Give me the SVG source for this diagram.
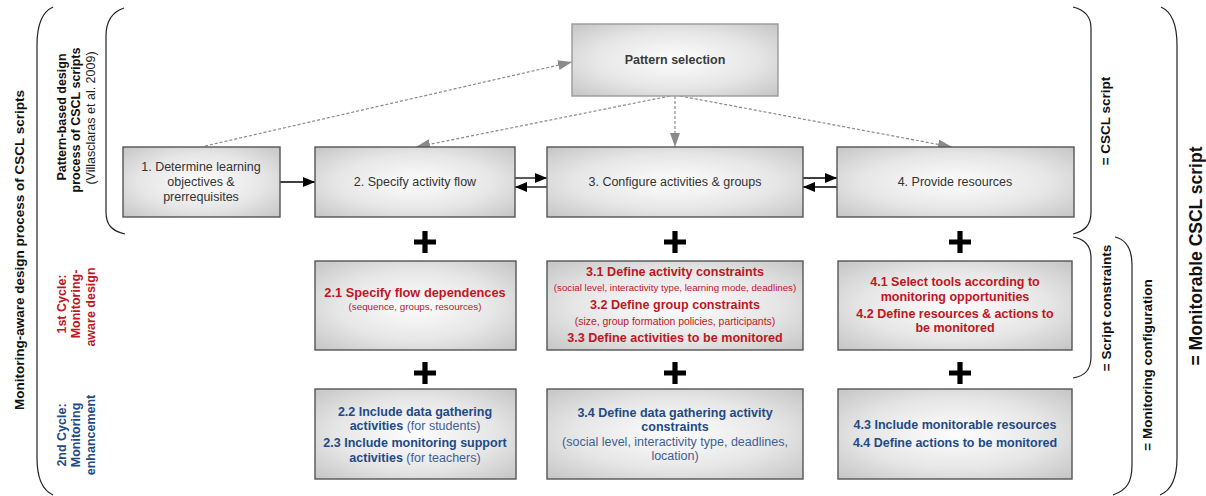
<svg xmlns="http://www.w3.org/2000/svg" width="1206" height="496" viewBox="0 0 1206 496">
  <style>
    .box { fill: url(#boxFill); stroke: #555; stroke-width: 1.4; }
    .box-light { fill: url(#boxFill); stroke: #9a9a9a; stroke-width: 1.4; }
    .t { font-family: "Liberation Sans", Arial, sans-serif; text-anchor: middle; }
    .step { font-size: 12.5px; fill: #333; }
    .red { fill: #c0161f; }
    .blue { fill: #1e4a86; }
    .b { font-weight: bold; }
    .lbl { font-family: "Liberation Sans", Arial, sans-serif; font-weight: bold; text-anchor: middle; fill: #111; }
    .brace { fill: none; stroke: #222; stroke-width: 1.2; }
    .solid { fill: none; stroke: #000; stroke-width: 1.3; }
    .dash { fill: none; stroke: #8a8a8a; stroke-width: 1.2; stroke-dasharray: 3 2; }
    .plus { fill: #000; }
  </style>
  <defs>
    <radialGradient id="boxFill" cx="0.5" cy="0.5" r="0.72">
      <stop offset="0" stop-color="#fdfdfd"/>
      <stop offset="0.55" stop-color="#e6e6e6"/>
      <stop offset="1" stop-color="#c3c3c3"/>
    </radialGradient>
    <marker id="arrowBlack" viewBox="0 0 12 10" refX="12" refY="5" markerWidth="12" markerHeight="10" markerUnits="userSpaceOnUse" orient="auto">
      <path d="M0,0 L12,5 L0,10 z" fill="#000"/>
    </marker>
    <marker id="arrowGray" viewBox="0 0 14 10" refX="14" refY="5" markerWidth="14" markerHeight="10" markerUnits="userSpaceOnUse" orient="auto">
      <path d="M0,0 L14,5 L0,10 z" fill="#8a8a8a"/>
    </marker>
    <path id="plusShape" d="M-2.6,-11 h5.2 v8.4 h8.4 v5.2 h-8.4 v8.4 h-5.2 v-8.4 h-8.4 v-5.2 h8.4 z"/>
  </defs>

  <!-- braces -->
  <g id="braces">
    <path class="brace" d="M53,7 C42,12 37,25 37,45 L37,458 C37,478 42,490 53,495"/>
    <path class="brace" d="M124,8 C112,12 106,22 106,36 L106,212 C106,225 112,231 125,234"/>
    <path class="brace" d="M1073,7 C1085,10 1091,17 1091,28 L1091,212 C1091,225 1085,231 1073,234"/>
    <path class="brace" d="M1073,237 C1085,239 1091,246 1091,258 L1091,357 C1091,370 1085,376 1073,378"/>
    <path class="brace" d="M1115,237 C1127,240 1132,250 1132,265 L1132,465 C1132,482 1127,490 1113,495"/>
    <path class="brace" d="M1161,7 C1172,12 1177,25 1177,45 L1177,458 C1177,478 1172,490 1160,495"/>
  </g>

  <!-- side labels -->
  <g id="labels">
    <text class="lbl" font-size="13.5" transform="translate(24,250) rotate(-90)">Monitoring-aware design process of CSCL scripts</text>
    <text class="lbl" font-size="12.5" transform="translate(66,117) rotate(-90)">Pattern-based design</text>
    <text class="lbl" font-size="12.5" transform="translate(80,120) rotate(-90)">process of CSCL scripts</text>
    <text class="t" font-size="12.5" fill="#222" transform="translate(95,118) rotate(-90)">(Villasclaras et al. 2009)</text>
    <text class="t b red" font-size="12.5" transform="translate(66,304) rotate(-90)">1st  Cycle:</text>
    <text class="t b red" font-size="12.5" transform="translate(80,304) rotate(-90)">Monitoring-</text>
    <text class="t b red" font-size="12.5" transform="translate(95,307) rotate(-90)">aware design</text>
    <text class="t b blue" font-size="12.5" transform="translate(66,435) rotate(-90)">2nd Cycle:</text>
    <text class="t b blue" font-size="12.5" transform="translate(80,435) rotate(-90)">Monitoring</text>
    <text class="t b blue" font-size="12.5" transform="translate(95,435) rotate(-90)">enhancement</text>
    <text class="lbl" font-size="13.5" transform="translate(1110,121) rotate(-90)">= CSCL script</text>
    <text class="lbl" font-size="13.5" transform="translate(1111,308) rotate(-90)">= Script constraints</text>
    <text class="lbl" font-size="13.5" transform="translate(1152,365) rotate(-90)">= Monitoring configuration</text>
    <text class="lbl" font-size="17.5" transform="translate(1202,256) rotate(-90)">= Monitorable CSCL script</text>
  </g>

  <!-- connectors -->
  <g id="connectors">
    <path class="dash" d="M205,146 L572,62" marker-end="url(#arrowGray)"/>
    <path class="dash" d="M670,96 L416,147" marker-end="url(#arrowGray)"/>
    <path class="dash" d="M675,96 L675,147" marker-end="url(#arrowGray)"/>
    <path class="dash" d="M680,96 L952,147" marker-end="url(#arrowGray)"/>
    <path class="solid" d="M280,182 L315,182" marker-end="url(#arrowBlack)"/>
    <path class="solid" d="M515,178 L547,178" marker-end="url(#arrowBlack)"/>
    <path class="solid" d="M547,187 L515,187" marker-end="url(#arrowBlack)"/>
    <path class="solid" d="M803,178 L837,178" marker-end="url(#arrowBlack)"/>
    <path class="solid" d="M837,187 L803,187" marker-end="url(#arrowBlack)"/>
  </g>

  <!-- plus signs between rows -->
  <g id="plus-signs" class="plus">
    <use href="#plusShape" x="425" y="242"/>
    <use href="#plusShape" x="675" y="242"/>
    <use href="#plusShape" x="960" y="242"/>
    <use href="#plusShape" x="425" y="373"/>
    <use href="#plusShape" x="675" y="373"/>
    <use href="#plusShape" x="960" y="373"/>
  </g>

  <!-- top row -->
  <g id="pattern-selection">
    <rect class="box-light" x="572" y="24" width="206" height="72"/>
    <text class="t b" font-size="12.5" fill="#3a3a3a" x="675" y="64">Pattern selection</text>
  </g>
  <g id="step1">
    <rect class="box" x="123" y="147" width="157" height="70"/>
    <text class="t step" x="201" y="171">1. Determine learning</text>
    <text class="t step" x="201" y="186">objectives &amp;</text>
    <text class="t step" x="201" y="201">prerrequisites</text>
  </g>
  <g id="step2">
    <rect class="box" x="315" y="147" width="200" height="70"/>
    <text class="t step" x="415" y="186">2. Specify activity flow</text>
  </g>
  <g id="step3">
    <rect class="box" x="547" y="147" width="256" height="70"/>
    <text class="t step" x="675" y="186">3. Configure activities &amp; groups</text>
  </g>
  <g id="step4">
    <rect class="box" x="837" y="147" width="237" height="70"/>
    <text class="t step" x="955" y="186">4. Provide resources</text>
  </g>

  <!-- first cycle row -->
  <g id="step2-1">
    <rect class="box" x="315" y="261" width="201" height="89"/>
    <text class="t b red" font-size="12.8" x="415" y="297">2.1 Specify flow dependences</text>
    <text class="t red" font-size="9.8" x="415" y="310">(sequence, groups, resources)</text>
  </g>
  <g id="step3-1">
    <rect class="box" x="547" y="261" width="256" height="89"/>
    <text class="t b red" font-size="12.6" x="675" y="276">3.1 Define activity  constraints</text>
    <text class="t red" font-size="9.7" x="675" y="291">(social level, interactivity type, learning mode, deadlines)</text>
    <text class="t b red" font-size="12.6" x="675" y="309">3.2 Define group constraints</text>
    <text class="t red" font-size="10.4" x="675" y="325">(size, group formation policies, participants)</text>
    <text class="t b red" font-size="12.6" x="675" y="342">3.3 Define activities to be monitored</text>
  </g>
  <g id="step4-1">
    <rect class="box" x="838" y="261" width="234" height="89"/>
    <text class="t b red" font-size="12.5" x="955" y="286">4.1 Select tools according to</text>
    <text class="t b red" font-size="12.5" x="955" y="301">monitoring opportunities</text>
    <text class="t b red" font-size="12.5" x="955" y="318">4.2 Define resources &amp; actions to</text>
    <text class="t b red" font-size="12.5" x="955" y="332">be monitored</text>
  </g>

  <!-- second cycle row -->
  <g id="step2-2">
    <rect class="box" x="315" y="389" width="201" height="90"/>
    <text class="t b blue" font-size="12.5" x="415" y="416">2.2 Include data gathering</text>
    <text class="t blue" font-size="12.5" x="415" y="430"><tspan class="b">activities</tspan><tspan fill="#3e5f94"> (for students)</tspan></text>
    <text class="t b blue" font-size="12.5" x="415" y="447">2.3 Include monitoring support</text>
    <text class="t blue" font-size="12.5" x="415" y="462"><tspan class="b">activities</tspan><tspan fill="#3e5f94"> (for teachers)</tspan></text>
  </g>
  <g id="step3-4">
    <rect class="box" x="547" y="389" width="256" height="90"/>
    <text class="t b blue" font-size="12.5" x="675" y="417">3.4 Define data gathering activity</text>
    <text class="t b blue" font-size="12.5" x="675" y="431">constraints</text>
    <text class="t" font-size="12.5" fill="#3e5f94" x="675" y="446">(social level, interactivity type, deadlines,</text>
    <text class="t" font-size="12.5" fill="#3e5f94" x="675" y="460">location)</text>
  </g>
  <g id="step4-3">
    <rect class="box" x="838" y="389" width="234" height="90"/>
    <text class="t b blue" font-size="12.5" x="955" y="429">4.3 Include monitorable resources</text>
    <text class="t b blue" font-size="12.5" x="955" y="447">4.4 Define actions to be monitored</text>
  </g>
</svg>
